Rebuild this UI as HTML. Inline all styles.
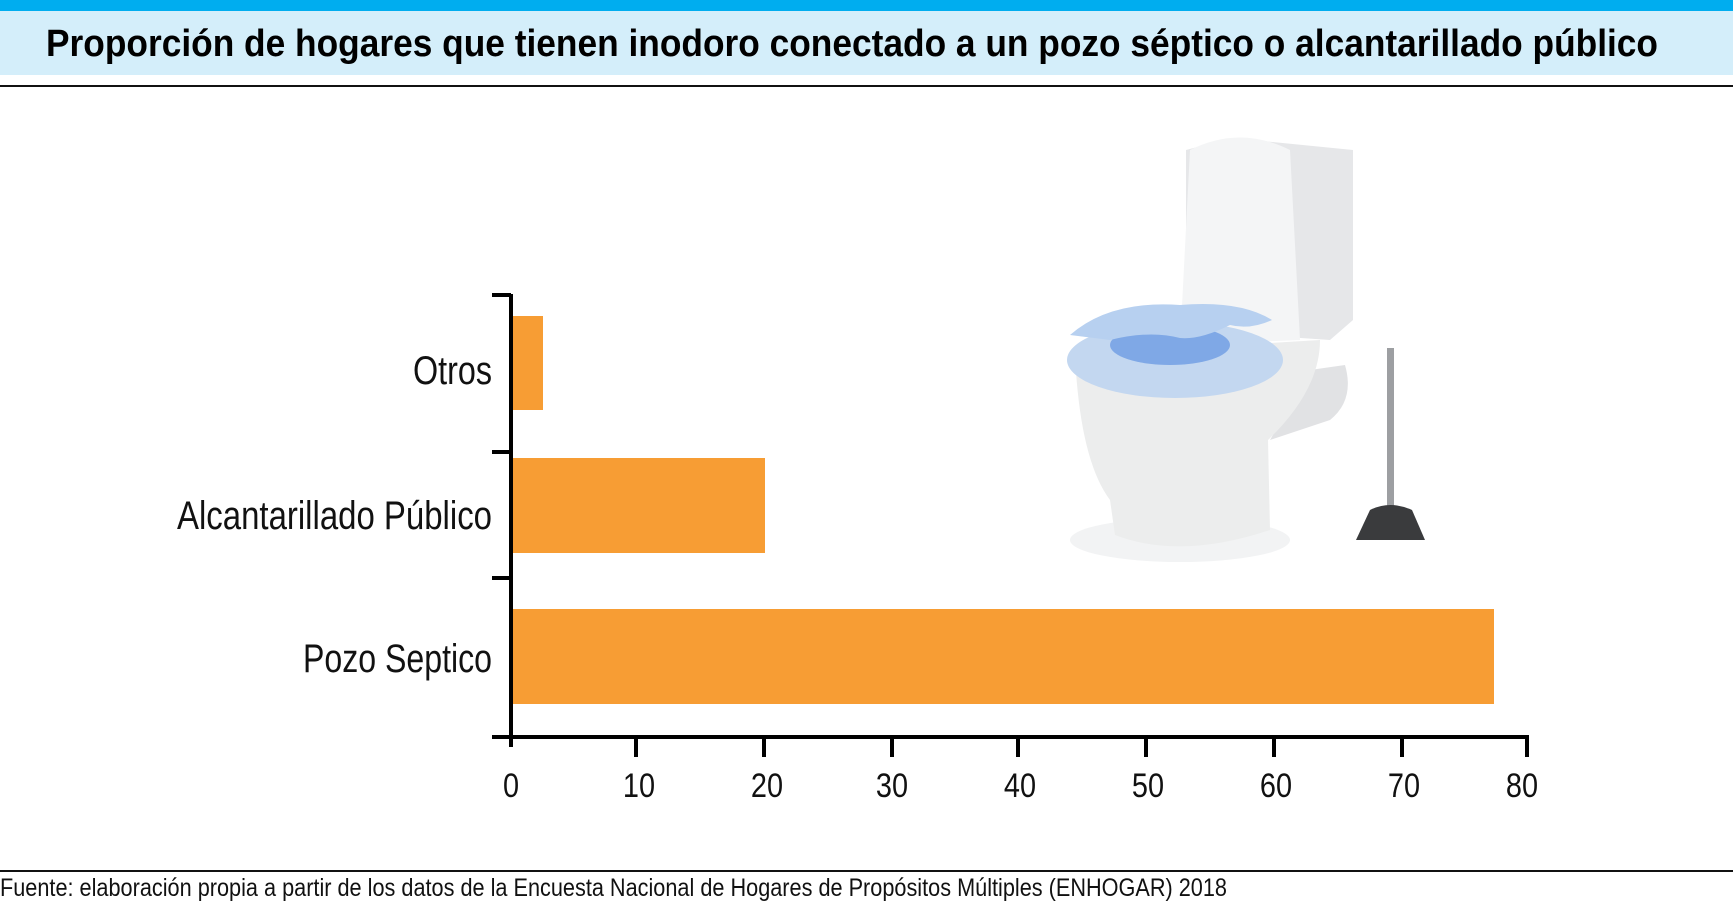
<!DOCTYPE html>
<html><head><meta charset="utf-8"><style>html,body{margin:0;padding:0;background:#fff}</style></head>
<body>
<svg width="1733" height="906" viewBox="0 0 1733 906" xmlns="http://www.w3.org/2000/svg" font-family="Liberation Sans, sans-serif">
<rect x="0" y="0" width="1733" height="11" fill="#00adef"/>
<rect x="0" y="11" width="1733" height="64" fill="#d4eefa"/>
<rect x="0" y="85" width="1733" height="2" fill="#111"/>
<text x="46" y="56" font-size="38" font-weight="bold" textLength="1612" lengthAdjust="spacingAndGlyphs">Proporción de hogares que tienen inodoro conectado a un pozo séptico o alcantarillado público</text>

<!-- bars -->
<rect x="512" y="316" width="31" height="94" fill="#f79d34"/>
<rect x="512" y="458" width="253" height="95" fill="#f79d34"/>
<rect x="512" y="609" width="982" height="95" fill="#f79d34"/>

<!-- axes -->
<line x1="511" y1="294" x2="511" y2="747" stroke="#000" stroke-width="4"/>
<line x1="492" y1="737" x2="1529" y2="737" stroke="#000" stroke-width="4"/>
<g stroke="#000" stroke-width="4">
<line x1="492" y1="295" x2="511" y2="295"/>
<line x1="492" y1="452" x2="511" y2="452"/>
<line x1="492" y1="578" x2="511" y2="578"/>
<line x1="636" y1="737" x2="636" y2="757"/>
<line x1="764" y1="737" x2="764" y2="757"/>
<line x1="892" y1="737" x2="892" y2="757"/>
<line x1="1018" y1="737" x2="1018" y2="757"/>
<line x1="1146" y1="737" x2="1146" y2="757"/>
<line x1="1274" y1="737" x2="1274" y2="757"/>
<line x1="1402" y1="737" x2="1402" y2="757"/>
<line x1="1527" y1="737" x2="1527" y2="757"/>
</g>
<g font-size="34" text-anchor="middle" fill="#111">
<text x="511" y="797" transform="translate(511 0) scale(0.85 1) translate(-511 0)">0</text>
<text x="639" y="797" transform="translate(639 0) scale(0.85 1) translate(-639 0)">10</text>
<text x="767" y="797" transform="translate(767 0) scale(0.85 1) translate(-767 0)">20</text>
<text x="892" y="797" transform="translate(892 0) scale(0.85 1) translate(-892 0)">30</text>
<text x="1020" y="797" transform="translate(1020 0) scale(0.85 1) translate(-1020 0)">40</text>
<text x="1148" y="797" transform="translate(1148 0) scale(0.85 1) translate(-1148 0)">50</text>
<text x="1276" y="797" transform="translate(1276 0) scale(0.85 1) translate(-1276 0)">60</text>
<text x="1404" y="797" transform="translate(1404 0) scale(0.85 1) translate(-1404 0)">70</text>
<text x="1522" y="797" transform="translate(1522 0) scale(0.85 1) translate(-1522 0)">80</text>
</g>
<g font-size="40" text-anchor="end" fill="#111">
<text x="492" y="384" textLength="79" lengthAdjust="spacingAndGlyphs">Otros</text>
<text x="492" y="529" textLength="315" lengthAdjust="spacingAndGlyphs">Alcantarillado Público</text>
<text x="492" y="672" textLength="189" lengthAdjust="spacingAndGlyphs">Pozo Septico</text>
</g>

<!-- toilet illustration -->
<g>
<ellipse cx="1180" cy="540" rx="110" ry="22" fill="#f2f3f4"/>
<path d="M1186 150 L1232 138 L1353 150 L1353 320 L1330 340 L1186 330 Z" fill="#e6e7e9"/>
<path d="M1190 150 Q1240 125 1290 150 L1300 340 L1180 345 Z" fill="#f4f5f6"/>
<path d="M1310 370 L1345 365 Q1355 400 1330 420 L1270 440 Z" fill="#e1e2e4"/>
<path d="M1075 355 Q1080 460 1110 500 L1115 535 Q1180 560 1270 530 L1268 440 Q1320 390 1320 340 Z" fill="#eceded"/>
<ellipse cx="1175" cy="360" rx="108" ry="38" fill="#c3d7f0"/>
<ellipse cx="1170" cy="345" rx="60" ry="20" fill="#7fa8e6"/>
<path d="M1070 335 Q1110 300 1180 305 Q1240 300 1272 320 Q1250 330 1230 325 Q1200 340 1180 338 Q1150 330 1110 340 Z" fill="#b7d0f0"/>
<rect x="1387" y="348" width="7" height="162" fill="#9d9fa2"/>
<path d="M1370 510 Q1390 500 1412 510 L1425 540 L1356 540 Z" fill="#3a3b3d"/>
</g>

<rect x="0" y="870" width="1733" height="2" fill="#111"/>
<text x="0" y="896" font-size="25" fill="#111" textLength="1227" lengthAdjust="spacingAndGlyphs">Fuente: elaboración propia a partir de los datos de la Encuesta Nacional de Hogares de Propósitos Múltiples (ENHOGAR) 2018</text>
</svg>
</body></html>
